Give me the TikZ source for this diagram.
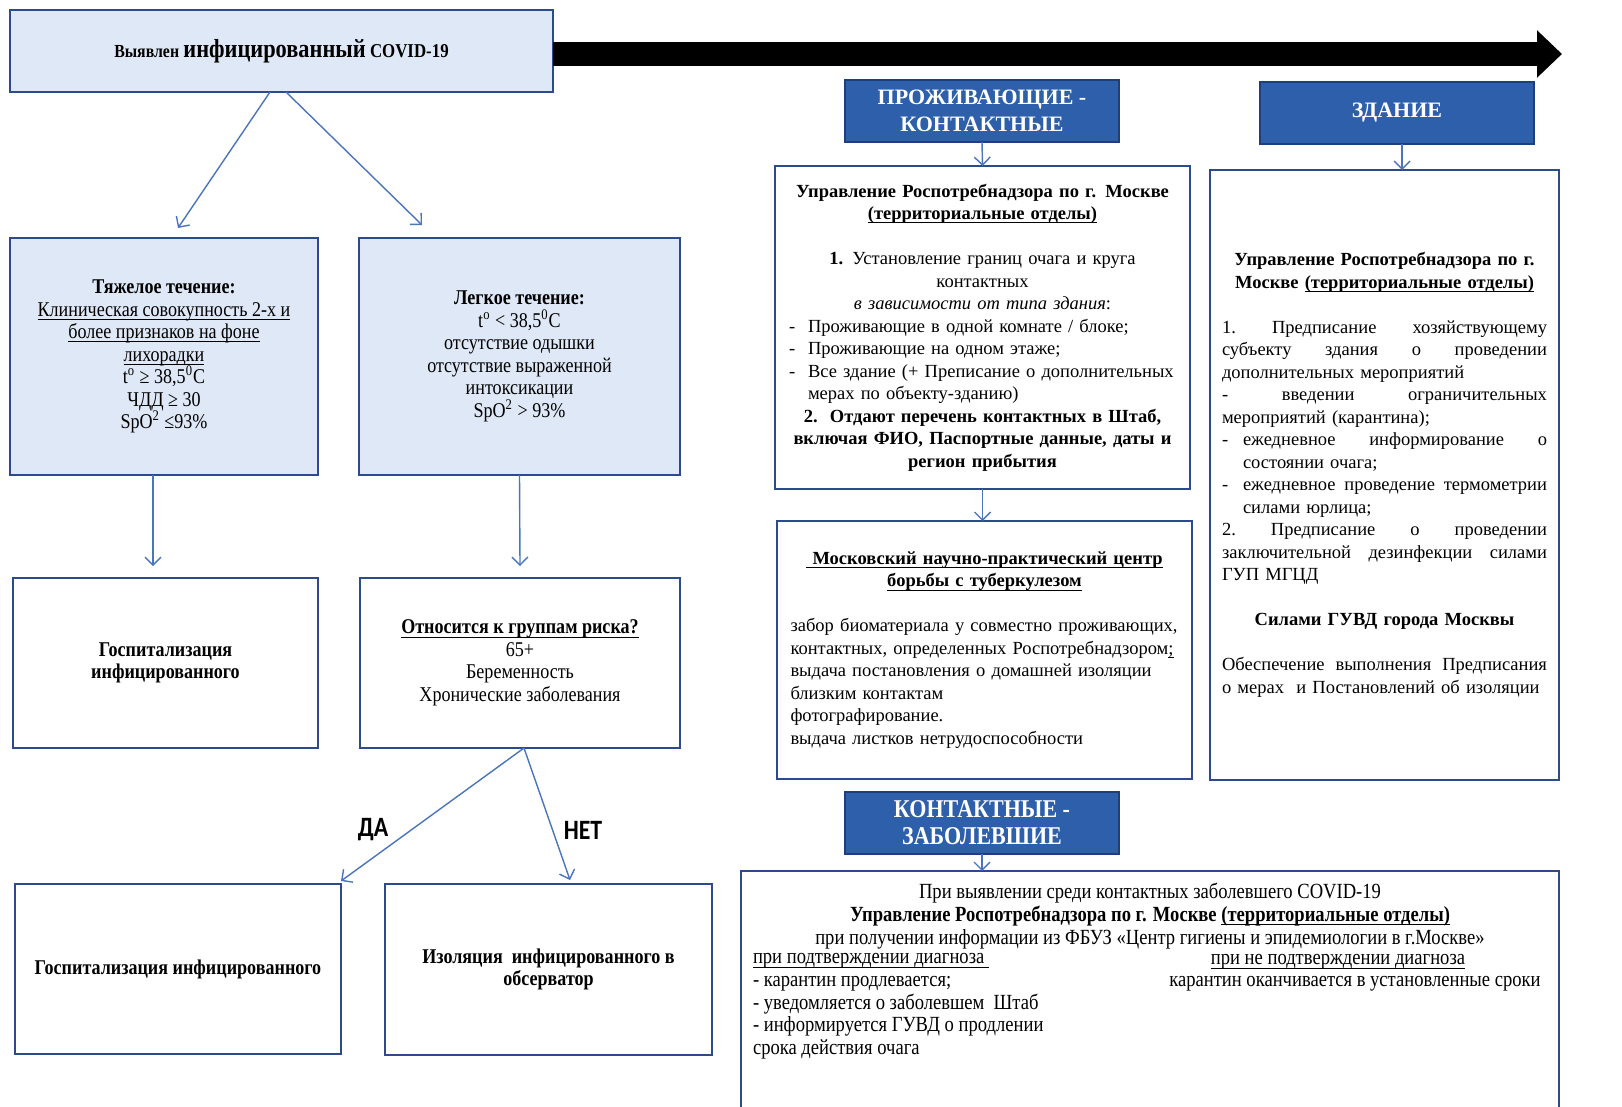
\documentclass[tikz,border=0pt]{standalone}
\usepackage{fontspec}
\setmainfont{Liberation Serif}
\newfontfamily\narrowf{Liberation Serif}[FakeStretch=0.86]
\newfontfamily\calf{Carlito}[FakeStretch=0.85]
\usetikzlibrary{arrows.meta}
\definecolor{lightb}{HTML}{DFE8F6}
\definecolor{bord}{HTML}{2C4A8C}
\definecolor{hdrfill}{HTML}{2D5FAA}
\definecolor{hdrbord}{HTML}{1D3F7C}
\definecolor{arr}{HTML}{4A75BD}
\newlength\ulwd
\newcommand{\lftln}[1]{\makebox[\linewidth][l]{#1}}
\newcommand{\jstln}[1]{{\spaceskip=.3333em plus 20em\relax\xspaceskip=.3333em plus 20em\relax\makebox[\linewidth][s]{#1}}}
\newcommand{\jstw}[2]{{\spaceskip=.3333em plus 20em\relax\xspaceskip=.3333em plus 20em\relax\makebox[#1][s]{#2}}}
\newcommand{\ctrln}[1]{\makebox[\linewidth][c]{#1}}
\newcommand{\ulin}[1]{\settowidth{\ulwd}{#1}\rlap{\rule[-1.9pt]{\ulwd}{0.5pt}}#1}
\begin{document}
\begin{tikzpicture}[x=0.5pt,y=-0.5pt,
  box/.style={draw=bord, line width=1.4pt, inner sep=0pt, outer sep=0pt, align=center},
  lbox/.style={box, fill=lightb},
  wbox/.style={box, fill=white},
  narrowtxt/.style={font=\narrowf\fontsize{10.5}{11.25}\selectfont},
  bottxt/.style={font=\narrowf\fontsize{10.8}{11.35}\selectfont},
  serif/.style={font=\fontsize{9.25}{11.25}\selectfont},
  hdr/.style={draw=hdrbord, line width=1pt, fill=hdrfill, text=white, inner sep=0pt, outer sep=0pt, minimum width=137pt, minimum height=31pt, align=center},
  conn/.style={draw=arr, line width=0.7pt, -{Straight Barb[length=4pt,width=8pt]}},
  bigarrow/.style={line width=12pt, black, -{Triangle[length=12.5pt,width=23pt]}},
  txt/.style={inner sep=0pt, outer sep=0pt},
  yesno/.style={txt, font=\calf\bfseries\fontsize{14}{16}\selectfont},
]
\useasboundingbox (0,0) rectangle (1622,1107);
\clip (0,0) rectangle (1622,1107);
\fill[white] (0,0) rectangle (1622,1107);

% left column
\node[lbox, minimum width=271.5pt, minimum height=41pt, font=\narrowf\bfseries] (top) at (281.5,51)
  {{\fontsize{9.2}{10}\selectfont Выявлен} {\fontsize{13}{14}\selectfont инфицированный} {\fontsize{9.8}{10}\selectfont COVID-19}};

\node[lbox, narrowtxt, minimum width=154pt, minimum height=118.5pt] (severe) at (164,356.5)
  {\textbf{Тяжелое течение:}\\ \ulin{Клиническая совокупность 2-х и}\\ \ulin{более признаков на фоне}\\ \ulin{лихорадки}\\
   t\textsuperscript{o} ≥ 38,5\textsuperscript{0}C\\ ЧДД ≥ 30\\ SpO\textsuperscript{2} ≤93\%};

\node[lbox, narrowtxt, minimum width=160.5pt, minimum height=118.5pt] (mild) at (519.5,356.5)
  {\textbf{Легкое течение:}\\ t\textsuperscript{o} < 38,5\textsuperscript{0}C\\ отсутствие одышки\\ отсутствие выраженной\\ интоксикации\\ SpO\textsuperscript{2} > 93\%};

\node[wbox, narrowtxt, minimum width=152.5pt, minimum height=85pt] (hosp1) at (165.5,663)
  {\textbf{Госпитализация}\\ \textbf{инфицированного}};

\node[wbox, narrowtxt, minimum width=160pt, minimum height=85pt] (risk) at (520,663)
  {\textbf{\ulin{Относится к группам риска?}}\\ 65+\\ Беременность\\ Хронические заболевания};

\node[wbox, narrowtxt, minimum width=163pt, minimum height=85pt] (hosp2) at (178,969)
  {\textbf{Госпитализация инфицированного}};

\node[wbox, narrowtxt, minimum width=163.5pt, minimum height=85.5pt] (iso) at (548.5,969.5)
  {\textbf{Изоляция\ \ инфицированного в}\\ \textbf{обсерватор}};

\draw[conn] ([xshift=-5.75pt]top.south) -- ([xshift=7pt,yshift=5pt]severe.north);
\draw[conn] ([xshift=2.25pt]top.south) -- ([xshift=-48.75pt,yshift=6.5pt]mild.north);
\draw[conn] ([xshift=-5.5pt]severe.south) -- ([xshift=-6.25pt,yshift=6pt]hosp1.north);
\draw[conn] (mild.south) -- ([yshift=6pt]risk.north);
\draw[conn] ([xshift=2pt]risk.south) -- ([yshift=1.5pt]hosp2.north east);
\draw[conn] ([xshift=2pt]risk.south) -- ([xshift=10.75pt,yshift=2pt]iso.north);

\node[yesno] (da) at (373,830) {ДА};
\node[yesno] (net) at (583,830) {НЕТ};

% big arrow
\coordinate (arrowend) at (1562,54);
\draw[bigarrow] ([yshift=-1.5pt]top.east) -- (arrowend);

% right side headers
\node[hdr, font=\fontsize{11}{13.5}\selectfont\bfseries] (h1) at (982,111) {ПРОЖИВАЮЩИЕ -\\ КОНТАКТНЫЕ};
\node[hdr, font=\fontsize{11}{13.5}\selectfont\bfseries] (h2) at (1397,113) {ЗДАНИЕ};
\node[hdr, font=\narrowf\fontsize{12.8}{13.5}\selectfont\bfseries] (h3) at (982,823) {КОНТАКТНЫЕ -\\ ЗАБОЛЕВШИЕ};

% Rospotrebnadzor box
\node[wbox, serif, minimum width=207.5pt, minimum height=161.5pt, text width=193.5pt] (rosp) at (982.5,327.5)
  {\ctrln{\textbf{Управление Роспотребнадзора по г. Москве}}\\
   \ctrln{\textbf{\ulin{(территориальные отделы)}}}\\[11.25pt]
   \ctrln{\textbf{1.} Установление границ очага и круга}\\
   \ctrln{контактных}\\
   \ctrln{\textit{в зависимости от типа здания}:}\\
   \lftln{\makebox[9.5pt][l]{-}Проживающие в одной комнате / блоке;}\\
   \lftln{\makebox[9.5pt][l]{-}Проживающие на одном этаже;}\\
   \lftln{\makebox[9.5pt][l]{-}Все здание (+ Преписание о дополнительных}\\
   \lftln{\hspace*{9.5pt}мерах по объекту-зданию)}\\
   \ctrln{\textbf{2.\ \ Отдают перечень контактных в Штаб,}}\\
   \ctrln{\textbf{включая ФИО, Паспортные данные, даты и}}\\
   \ctrln{\textbf{регион прибытия}}};

% MNPC box
\node[wbox, serif, minimum width=207.5pt, minimum height=129pt, text width=194pt] (mnpc) at (984.5,650)
  {\ctrln{\textbf{\ulin{\ Московский научно-практический центр}}}\\
   \ctrln{\textbf{\ulin{борьбы с туберкулезом}}}\\[11.25pt]
   \lftln{забор биоматериала у совместно проживающих,}\\
   \lftln{контактных, определенных Роспотребнадзором\ulin{;}}\\
   \lftln{выдача постановления о домашней изоляции}\\
   \lftln{близким контактам}\\
   \lftln{фотографирование.}\\
   \lftln{выдача листков нетрудоспособности}};

% Building box
\node[wbox, serif, minimum width=174.5pt, minimum height=305pt, text width=162.5pt] (bldg) at (1384.5,475)
  {\ctrln{\textbf{Управление Роспотребнадзора по г.}}\\
   \ctrln{\textbf{Москве \ulin{(территориальные отделы)}}}\\[11.25pt]
   \jstln{1. Предписание хозяйствующему}\\
   \jstln{субъекту здания о проведении}\\
   \lftln{дополнительных мероприятий}\\
   \jstln{- введении ограничительных}\\
   \lftln{мероприятий (карантина);}\\
   \lftln{\makebox[10.5pt][l]{-}\jstw{152pt}{ежедневное информирование о}}\\
   \lftln{\hspace*{10.5pt}состоянии очага;}\\
   \lftln{\makebox[10.5pt][l]{-}\jstw{152pt}{ежедневное проведение термометрии}}\\
   \lftln{\hspace*{10.5pt}силами юрлица;}\\
   \jstln{2. Предписание о проведении}\\
   \jstln{заключительной дезинфекции силами}\\
   \lftln{ГУП МГЦД}\\[11.25pt]
   \ctrln{\textbf{Силами ГУВД города Москвы}}\\[11.25pt]
   \jstln{Обеспечение выполнения Предписания}\\
   \lftln{о мерах\ \ и Постановлений об изоляции}};

% bottom box
\node[wbox, minimum width=409pt, minimum height=124.5pt] (ill) at (1150,995.5) {};
\node[txt, bottxt, align=center] (illhead) at (1150,916)
  {При выявлении среди контактных заболевшего COVID-19\\
   \textbf{Управление Роспотребнадзора по г. Москве \ulin{(территориальные отделы)}}\\
   при получении информации из ФБУЗ «Центр гигиены и эпидемиологии в г.Москве»};
\node[txt, bottxt, align=left, anchor=west] (illleft) at (753,1006.5)
  {\ulin{при подтверждении диагноза\ }\\
   - карантин продлевается;\\
   - уведомляется о заболевшем\ \ Штаб\\
   - информируется ГУВД о продлении\\
   срока действия очага};
\node[txt, bottxt] (illr1) at (1338,962) {\ulin{при не подтверждении диагноза}};
\node[txt, bottxt] (illr2) at (1355,984) {карантин оканчивается в установленные сроки};

\draw[conn] (h1.south) -- (rosp.north);
\draw[conn] (rosp.south) -- (mnpc.north -| rosp.south);
\draw[conn] ([xshift=2.5pt]h2.south) -- ([xshift=8.75pt]bldg.north);
\draw[conn] (h3.south) -- (ill.north -| h3.south);
\end{tikzpicture}
\end{document}
